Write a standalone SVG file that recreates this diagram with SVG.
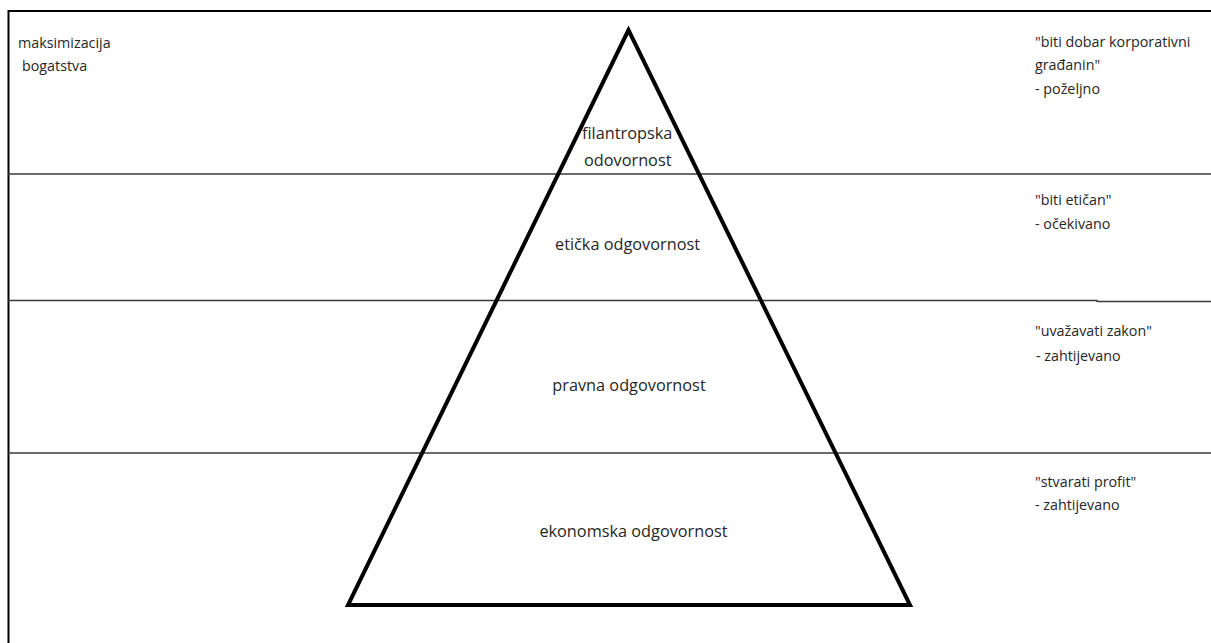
<svg xmlns="http://www.w3.org/2000/svg" width="1211" height="643" viewBox="0 0 1211 643">
<style>
text{font-family:"Open Sans","Noto Sans","Liberation Sans",sans-serif;font-size:14.3px;fill:#262626}
.c{font-size:16.3px}
.mid{text-anchor:middle}
.band{stroke:#3a3a3a;stroke-width:1.3;fill:none}
.frame{stroke:#000;stroke-width:2;fill:none}
</style>
<rect width="1211" height="643" fill="#fff"/>
<g id="frame">
<polyline class="frame" points="8.5,643 8.5,11 1211,11"/>
</g>
<g id="connectors">
<line class="band" x1="8" y1="174" x2="1211" y2="174"/>
<polyline class="band" points="8,300.5 1097,300.5 1097,301.5 1211,301.5"/>
<line class="band" x1="8" y1="453" x2="1211" y2="453"/>
</g>
<g id="pyramid">
<polygon points="628.5,30 348,605 910,605" fill="none" stroke="#000" stroke-width="4" stroke-linejoin="miter"/>
</g>
<g id="left-label">
<text x="18" y="48">maksimizacija</text>
<text x="22" y="71">bogatstva</text>
</g>
<g id="level-filantropska">
<text class="c" x="582" y="139">filantropska</text>
<text class="c" x="584" y="166">odovornost</text>
</g>
<g id="level-eticka">
<text class="c mid" x="627.5" y="250">etička odgovornost</text>
</g>
<g id="level-pravna">
<text class="c mid" x="629" y="391">pravna odgovornost</text>
</g>
<g id="level-ekonomska">
<text class="c mid" x="633.5" y="537">ekonomska odgovornost</text>
</g>
<g id="right-filantropska">
<text x="1035" y="47">"biti dobar korporativni</text>
<text x="1035" y="70">građanin"</text>
<text x="1035" y="94">- poželjno</text>
</g>
<g id="right-eticka">
<text x="1035" y="205">"biti etičan"</text>
<text x="1035" y="229">- očekivano</text>
</g>
<g id="right-pravna">
<text x="1035" y="336">"uvažavati zakon"</text>
<text x="1036" y="361">- zahtijevano</text>
</g>
<g id="right-ekonomska">
<text x="1035" y="487">"stvarati profit"</text>
<text x="1035" y="510">- zahtijevano</text>
</g>
</svg>
